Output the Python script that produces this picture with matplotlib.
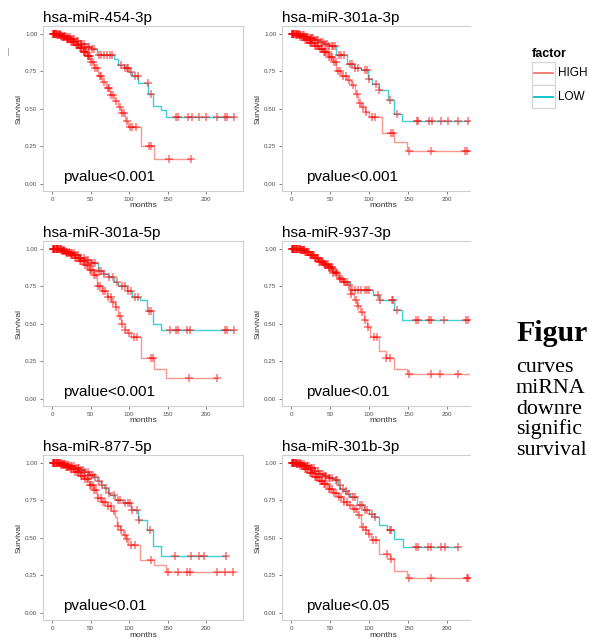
import numpy as np
import matplotlib.pyplot as plt
from matplotlib.patches import Rectangle
from matplotlib.lines import Line2D

plt.rcParams['font.family'] = ['Liberation Sans', 'DejaVu Sans']

# ---- data (months, survival) ----
titles = ['hsa-miR-454-3p', 'hsa-miR-301a-3p', 'hsa-miR-301a-5p',
          'hsa-miR-937-3p', 'hsa-miR-877-5p', 'hsa-miR-301b-3p']
pvalues = ['pvalue<0.001', 'pvalue<0.001', 'pvalue<0.001',
           'pvalue<0.01', 'pvalue<0.01', 'pvalue<0.05']
groups = ['HIGH', 'LOW']

# hsa-miR-454-3p
mir454_high_t = [0, 6, 12, 18, 24, 30, 35, 40, 45, 50, 55, 60, 65, 70, 75, 80, 85, 90, 95, 98, 115, 132, 180]
mir454_high_s = [1.0, 0.99, 0.98, 0.965, 0.945, 0.925, 0.905, 0.88, 0.85, 0.81, 0.77, 0.72, 0.68, 0.64, 0.59,
                 0.55, 0.51, 0.47, 0.42, 0.375, 0.25, 0.167, 0.167]
mir454_high_c = [1, 2, 3, 4, 5, 7, 8, 9, 10, 11, 13, 14, 15, 16, 17, 19, 20, 21, 22, 23, 25, 26, 27, 28, 29,
                 31, 32, 33, 34, 36, 37, 38, 39, 41, 42, 43, 44, 46, 47, 48, 49, 51, 53, 56, 58, 62, 64, 67,
                 72, 74, 77, 79, 83, 88, 91, 93, 97, 101, 104, 109, 126, 129, 152, 180]
mir454_low_t = [0, 6, 12, 18, 24, 30, 36, 42, 50, 58, 80, 85, 93, 100, 104, 112, 125, 131, 141, 148, 236]
mir454_low_s = [1.0, 0.995, 0.985, 0.975, 0.965, 0.95, 0.93, 0.91, 0.9, 0.86, 0.83, 0.79, 0.77, 0.745, 0.72,
                0.67, 0.6, 0.52, 0.49, 0.445, 0.445]
mir454_low_c = [1, 2, 4, 5, 7, 9, 10, 12, 13, 15, 17, 19, 21, 23, 25, 27, 29, 32, 34, 37, 39, 41, 44, 46, 48,
                52, 55, 61, 64, 67, 71, 75, 78, 89, 94, 97, 99, 103, 107, 111, 124, 128, 161, 164, 176, 181,
                191, 200, 214, 224, 227, 236]

# hsa-miR-301a-3p
mir301a3_high_t = [0, 6, 12, 18, 24, 30, 36, 42, 48, 54, 58, 64, 71, 77, 82, 86, 90, 95, 100, 116, 132, 148, 236]
mir301a3_high_s = [1.0, 0.99, 0.975, 0.96, 0.94, 0.92, 0.9, 0.875, 0.845, 0.81, 0.75, 0.72, 0.69, 0.66, 0.6,
                   0.54, 0.51, 0.48, 0.445, 0.335, 0.28, 0.22, 0.22]
mir301a3_high_c = [1, 2, 3, 5, 6, 8, 9, 11, 12, 14, 15, 17, 18, 20, 21, 23, 24, 26, 27, 29, 31, 32, 34, 35,
                   37, 39, 40, 42, 44, 45, 47, 49, 51, 53, 55, 57, 60, 63, 67, 70, 74, 79, 84, 88, 92, 96,
                   103, 107, 128, 131, 151, 179, 222, 225]
mir301a3_low_t = [0, 6, 12, 18, 24, 30, 36, 42, 48, 58, 72, 80, 90, 98, 104, 112, 124, 132, 142, 236]
mir301a3_low_s = [1.0, 0.995, 0.99, 0.98, 0.97, 0.96, 0.945, 0.93, 0.915, 0.86, 0.8, 0.77, 0.756, 0.695,
                  0.668, 0.627, 0.556, 0.468, 0.42, 0.42]
mir301a3_low_c = [1, 2, 3, 4, 6, 7, 9, 10, 12, 13, 15, 16, 18, 19, 21, 22, 24, 25, 27, 28, 30, 33, 35, 38,
                  41, 43, 46, 49, 52, 54, 56, 61, 64, 68, 75, 78, 82, 86, 94, 97, 100, 109, 113, 127, 135,
                  161, 163, 176, 180, 192, 201, 214, 227]

# hsa-miR-301a-5p
mir301a5_high_t = [0, 6, 12, 18, 24, 30, 36, 42, 48, 54, 58, 65, 71, 77, 82, 86, 90, 94, 97, 103, 116, 132, 148, 214]
mir301a5_high_s = [1.0, 0.995, 0.985, 0.97, 0.955, 0.94, 0.92, 0.89, 0.86, 0.825, 0.75, 0.715, 0.68, 0.645,
                   0.61, 0.55, 0.5, 0.46, 0.436, 0.41, 0.27, 0.2, 0.135, 0.135]
mir301a5_high_c = [1, 2, 3, 4, 6, 7, 8, 10, 11, 13, 14, 16, 17, 19, 20, 22, 23, 25, 26, 28, 30, 31, 33, 35,
                   36, 38, 40, 41, 43, 45, 47, 49, 51, 53, 55, 57, 60, 62, 66, 69, 73, 76, 79, 83, 88, 91,
                   95, 100, 106, 110, 129, 131, 178, 214]
mir301a5_low_t = [0, 6, 12, 18, 24, 30, 36, 42, 50, 59, 66, 72, 80, 86, 97, 104, 114, 123, 131, 142, 236]
mir301a5_low_s = [1.0, 0.995, 0.99, 0.98, 0.97, 0.955, 0.94, 0.925, 0.905, 0.85, 0.83, 0.81, 0.78, 0.75,
                  0.72, 0.676, 0.658, 0.587, 0.5, 0.458, 0.458]
mir301a5_low_c = [1, 2, 3, 5, 6, 8, 9, 11, 12, 14, 16, 18, 20, 22, 24, 26, 28, 31, 33, 36, 38, 41, 44, 47,
                  50, 53, 56, 61, 64, 67, 74, 79, 84, 91, 95, 99, 102, 108, 111, 126, 129, 153, 161, 164,
                  175, 179, 225, 227, 236]

# hsa-miR-937-3p
mir937_high_t = [0, 6, 12, 18, 24, 30, 36, 42, 48, 54, 60, 66, 72, 76, 80, 84, 88, 93, 97, 101, 113, 122, 132,
                 148, 236]
mir937_high_s = [1.0, 0.995, 0.99, 0.975, 0.955, 0.935, 0.91, 0.89, 0.87, 0.84, 0.8, 0.78, 0.757, 0.7, 0.66,
                 0.62, 0.58, 0.525, 0.48, 0.414, 0.32, 0.27, 0.2, 0.165, 0.165]
mir937_high_c = [1, 2, 3, 4, 5, 7, 8, 10, 11, 13, 14, 16, 17, 19, 20, 22, 24, 25, 27, 28, 30, 31, 33, 34,
                 36, 37, 39, 41, 43, 44, 46, 48, 50, 52, 54, 57, 59, 62, 65, 69, 74, 77, 83, 86, 91, 95,
                 99, 106, 110, 122, 127, 151, 179, 191, 214]
mir937_low_t = [0, 6, 12, 18, 24, 30, 36, 42, 48, 54, 60, 66, 75, 105, 113, 132, 142, 236]
mir937_low_s = [1.0, 0.995, 0.99, 0.98, 0.96, 0.94, 0.92, 0.9, 0.875, 0.845, 0.805, 0.775, 0.725, 0.69,
                0.655, 0.59, 0.525, 0.525]
mir937_low_c = [1, 2, 3, 5, 6, 8, 9, 11, 12, 14, 15, 17, 18, 21, 23, 26, 28, 29, 32, 35, 38, 40, 42, 45,
                47, 49, 51, 53, 55, 58, 63, 68, 72, 78, 82, 86, 90, 94, 97, 100, 111, 114, 129, 131, 135,
                160, 163, 176, 179, 196, 224, 226]

# hsa-miR-877-5p
mir877_high_t = [0, 6, 12, 18, 24, 30, 36, 42, 48, 54, 58, 64, 71, 77, 82, 84, 88, 92, 96, 99, 114, 132, 148, 235]
mir877_high_s = [1.0, 0.995, 0.985, 0.97, 0.955, 0.935, 0.91, 0.89, 0.85, 0.82, 0.763, 0.735, 0.708, 0.675,
                 0.64, 0.575, 0.55, 0.52, 0.49, 0.453, 0.35, 0.32, 0.272, 0.272]
mir877_high_c = [1, 2, 3, 4, 6, 7, 9, 10, 12, 13, 15, 16, 18, 19, 21, 22, 24, 25, 27, 29, 30, 32, 34, 35,
                 37, 39, 41, 43, 45, 47, 49, 51, 53, 55, 57, 60, 63, 66, 69, 73, 76, 80, 86, 90, 94, 97,
                 103, 108, 129, 151, 163, 175, 179, 214, 224, 235]
mir877_low_t = [0, 6, 12, 18, 24, 30, 36, 42, 48, 54, 58, 63, 67, 72, 75, 82, 92, 103, 112, 123, 131, 142, 226]
mir877_low_s = [1.0, 0.997, 0.99, 0.985, 0.975, 0.965, 0.95, 0.935, 0.92, 0.907, 0.874, 0.85, 0.83, 0.8,
                0.785, 0.752, 0.73, 0.686, 0.62, 0.553, 0.442, 0.376, 0.376]
mir877_low_c = [1, 2, 3, 5, 6, 8, 9, 11, 13, 14, 16, 17, 19, 20, 22, 24, 26, 28, 31, 33, 35, 38, 40, 43,
                46, 48, 51, 53, 56, 61, 65, 70, 74, 80, 86, 88, 95, 98, 101, 104, 110, 113, 127, 160,
                180, 191, 197, 226]

# hsa-miR-301b-3p
mir301b_high_t = [0, 6, 12, 18, 24, 30, 36, 42, 48, 54, 60, 66, 72, 78, 85, 89, 94, 98, 102, 113, 126, 132, 148,
                  236]
mir301b_high_s = [1.0, 0.99, 0.975, 0.955, 0.93, 0.905, 0.88, 0.855, 0.825, 0.8, 0.77, 0.74, 0.72, 0.69,
                  0.65, 0.572, 0.55, 0.527, 0.483, 0.39, 0.36, 0.28, 0.233, 0.233]
mir301b_high_c = [1, 2, 3, 4, 5, 7, 8, 9, 11, 12, 14, 15, 16, 18, 19, 21, 22, 24, 25, 27, 28, 30, 32, 33,
                  35, 37, 39, 40, 42, 44, 46, 48, 50, 52, 55, 57, 61, 64, 68, 71, 75, 80, 83, 87, 92, 96,
                  100, 105, 109, 123, 128, 151, 179, 225, 227]
mir301b_low_t = [0, 6, 12, 18, 24, 30, 36, 42, 48, 55, 60, 63, 68, 72, 76, 84, 93, 100, 106, 113, 123, 132,
                 143, 214]
mir301b_low_s = [1.0, 0.997, 0.99, 0.98, 0.965, 0.945, 0.925, 0.91, 0.895, 0.882, 0.85, 0.827, 0.81, 0.79,
                 0.77, 0.716, 0.683, 0.66, 0.64, 0.583, 0.55, 0.494, 0.438, 0.438]
mir301b_low_c = [1, 2, 3, 5, 6, 8, 10, 11, 13, 14, 16, 18, 20, 21, 23, 25, 27, 29, 31, 34, 36, 38, 41, 43,
                 45, 48, 50, 53, 57, 59, 62, 66, 70, 74, 79, 82, 88, 91, 95, 97, 104, 108, 126, 128, 160,
                 163, 175, 179, 192, 197, 214]

panels = [
    (mir454_high_t, mir454_high_s, mir454_high_c, mir454_low_t, mir454_low_s, mir454_low_c),
    (mir301a3_high_t, mir301a3_high_s, mir301a3_high_c, mir301a3_low_t, mir301a3_low_s, mir301a3_low_c),
    (mir301a5_high_t, mir301a5_high_s, mir301a5_high_c, mir301a5_low_t, mir301a5_low_s, mir301a5_low_c),
    (mir937_high_t, mir937_high_s, mir937_high_c, mir937_low_t, mir937_low_s, mir937_low_c),
    (mir877_high_t, mir877_high_s, mir877_high_c, mir877_low_t, mir877_low_s, mir877_low_c),
    (mir301b_high_t, mir301b_high_s, mir301b_high_c, mir301b_low_t, mir301b_low_s, mir301b_low_c),
]

HIGH_COL = '#F8766D'
LOW_COL = '#00BFC4'
MARK_COL = '#FF0000'

W, H = 589, 638
fig = plt.figure(figsize=(W / 100, H / 100), dpi=100)


def px_box(left, top, right, bottom):
    return [left / W, 1 - bottom / H, (right - left) / W, (bottom - top) / H]


def km(ax, t, s, cens, color):
    t = np.asarray(t, float)
    s = np.asarray(s, float)
    ax.step(t, s, where='post', color=color, lw=1.0, alpha=0.75, zorder=2)
    idx = np.searchsorted(t, cens, side='right') - 1
    ax.plot(cens, s[idx], ls='none', marker='+', ms=5.2, mew=1.1,
            color=MARK_COL, alpha=0.55, zorder=3)


cols = [(43, 243, (-11.8, 247.8)), (282, 470, (-11.6, 229))]
rows = [(26.2, 191.2), (241.2, 406.2), (455.0, 620.4)]

for i, data in enumerate(panels):
    r, c = divmod(i, 2)
    left, right, xlim = cols[c]
    top, bottom = rows[r]
    ax = fig.add_axes(px_box(left, top, right, bottom))
    ht, hs, hc, lt, ls_, lc = data
    km(ax, lt, ls_, lc, LOW_COL)
    km(ax, ht, hs, hc, HIGH_COL)

    ax.set_xlim(*xlim)
    ax.set_ylim(-0.05, 1.05)
    ax.set_xticks([0, 50, 100, 150, 200])
    ax.set_yticks([0, 0.25, 0.5, 0.75, 1.0])
    ax.set_yticklabels(['0.00', '0.25', '0.50', '0.75', '1.00'])
    ax.tick_params(labelsize=4.5, labelcolor='#4D4D4D', color='#4D4D4D',
                   length=2.5, width=0.5, pad=1.5)
    for side, sp in ax.spines.items():
        sp.set_color('#CFCFCF')
        sp.set_linewidth(0.8)
    if c == 1:
        ax.spines['right'].set_visible(False)

    ax.set_ylabel('Survival', fontsize=6, color='#333333', labelpad=2)
    ax.set_xlabel('months', fontsize=6, color='#333333', labelpad=0.5)
    if c == 1:
        # centre of the full (cropped) panel
        ax.xaxis.label.set_x((118.0 - xlim[0]) / (xlim[1] - xlim[0]))

    ax.set_title(titles[i], loc='left', fontsize=11, pad=3)
    ax.text(14 if c == 0 else 19, 0.02, pvalues[i], fontsize=11, va='baseline', ha='left')

# legend
fig.text(531.7 / W, 1 - 56.7 / H, 'factor', fontsize=9, fontweight='bold', va='baseline')
for k, (name, col) in enumerate(zip(groups, [HIGH_COL, LOW_COL])):
    y0 = 61.7 + k * 23.3
    fig.add_artist(Rectangle((531.7 / W, 1 - (y0 + 23.3) / H), 23.3 / W, 23.3 / H,
                             transform=fig.transFigure, facecolor='white',
                             edgecolor='#D5D5D5', lw=0.9))
    yc = 1 - (y0 + 11.7) / H
    fig.add_artist(Line2D([534 / W, 552.5 / W], [yc, yc], transform=fig.transFigure,
                          color=col, lw=1.3))
    fig.text(558 / W, yc, name, fontsize=8.5, va='center')

# stray mark at top left
fig.add_artist(Line2D([8.3 / W, 8.3 / W], [1 - 48 / H, 1 - 55 / H], transform=fig.transFigure,
                      color='#9A9A9A', lw=0.6))

# cropped caption on the right
fig.text(516 / W, 1 - 341 / H, 'Figur', family=['Liberation Serif'], fontsize=21.5,
         fontweight='bold', va='baseline')
caption = ['curves', 'miRNA', 'downre', 'signific', 'survival']
for k, line in enumerate(caption):
    fig.text(516 / W, 1 - (372 + k * 20.8) / H, line, family=['Liberation Serif'],
             fontsize=15.8, va='baseline')

fig.savefig('out.png', dpi=100)
